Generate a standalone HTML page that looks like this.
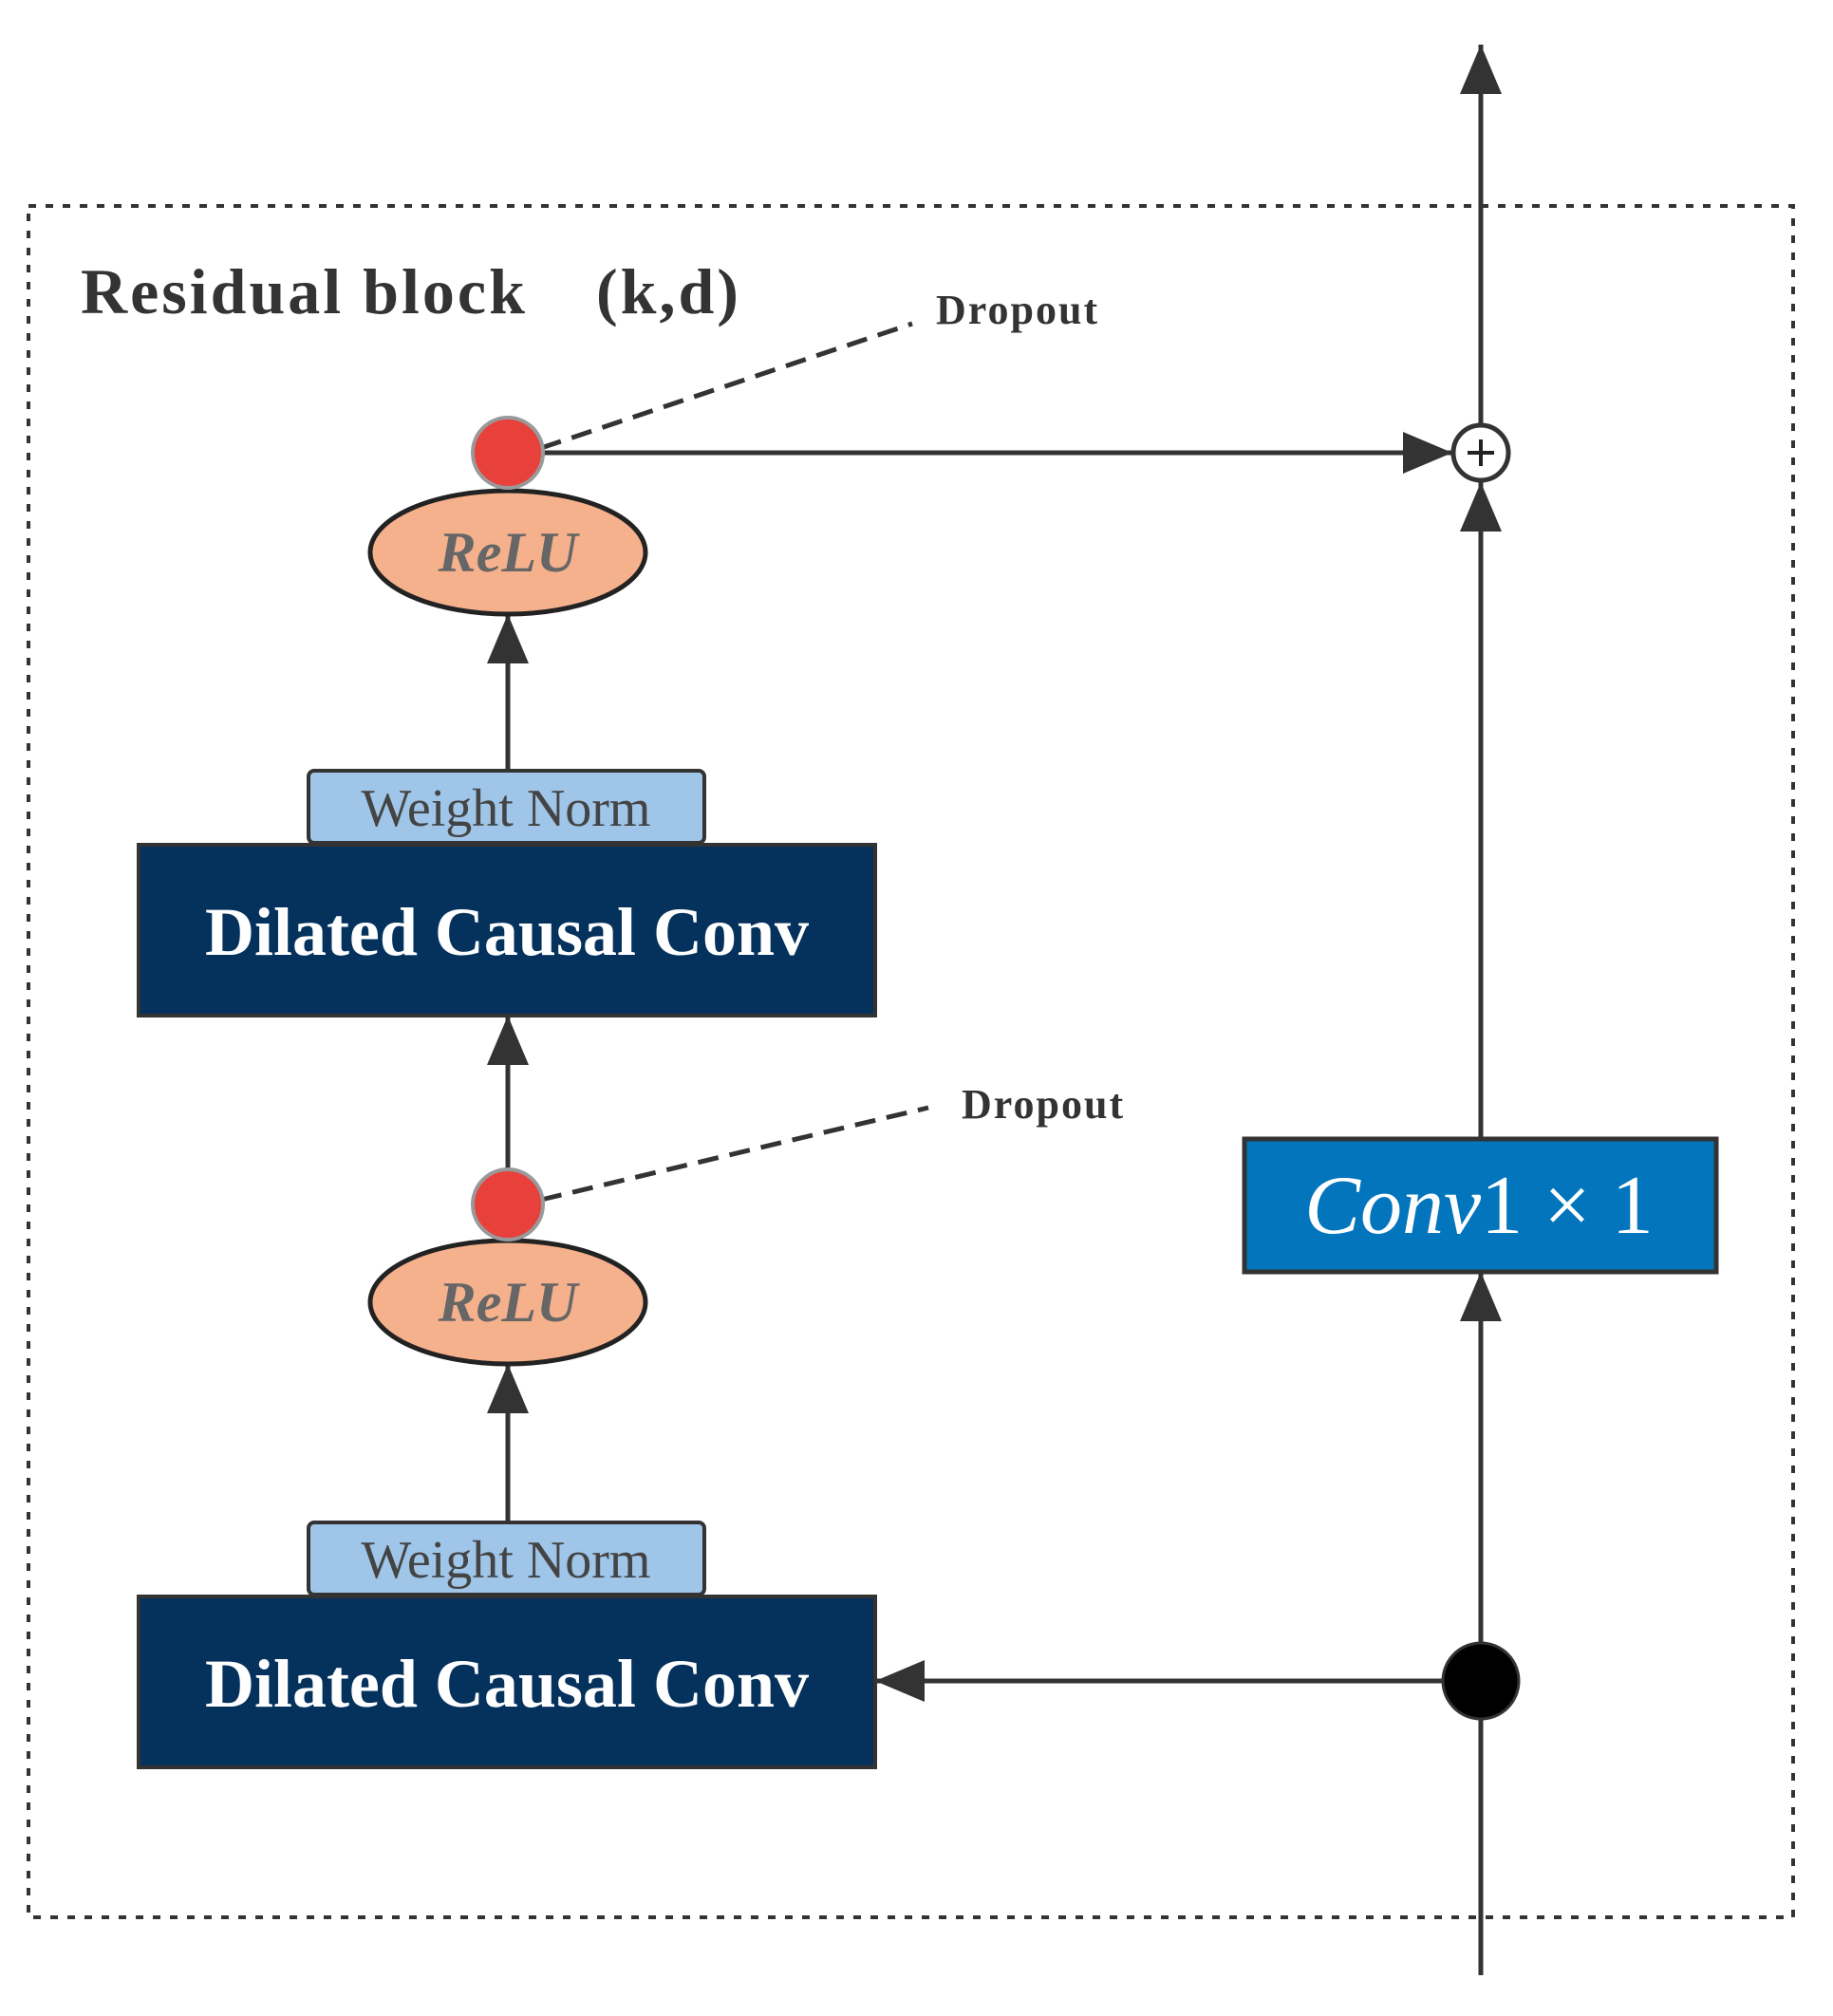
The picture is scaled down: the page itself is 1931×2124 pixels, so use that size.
<!DOCTYPE html>
<html><head><meta charset="utf-8"><style>html,body{margin:0;padding:0;background:#fff}svg{display:block}</style></head>
<body>
<svg width="1931" height="2124" viewBox="0 0 1931 2124" xmlns="http://www.w3.org/2000/svg">
<defs>
<marker id="ah" markerWidth="52" markerHeight="44" refX="52" refY="22" orient="auto" markerUnits="userSpaceOnUse">
<path d="M0,0 L52,22 L0,44 Z" fill="#333"/></marker>
</defs>
<rect x="30" y="217" width="1859" height="1803" fill="none" stroke="#333" stroke-width="4" stroke-dasharray="8,10"/>
<text x="85" y="330" font-family="Liberation Serif,serif" font-weight="bold" font-size="68" letter-spacing="3" fill="#333">Residual block</text>
<text x="628" y="330" font-family="Liberation Serif,serif" font-weight="bold" font-size="68" letter-spacing="3" fill="#333">(k,d)</text>
<g stroke="#333" stroke-width="5" fill="none">
<line x1="1560" y1="2081" x2="1560" y2="1730" marker-end="url(#ah)"/>
<line x1="1560" y1="1730" x2="1560" y2="1340" marker-end="url(#ah)"/>
<line x1="1560" y1="1200" x2="1560" y2="508" marker-end="url(#ah)"/>
<line x1="1560" y1="447" x2="1560" y2="47" marker-end="url(#ah)"/>
<line x1="1520" y1="1771" x2="922" y2="1771" marker-end="url(#ah)"/>
<line x1="573" y1="477" x2="1530" y2="477" marker-end="url(#ah)"/>
<line x1="535" y1="1604" x2="535" y2="1437" marker-end="url(#ah)"/>
<line x1="535" y1="1231" x2="535" y2="1070" marker-end="url(#ah)"/>
<line x1="535" y1="812" x2="535" y2="647" marker-end="url(#ah)"/>
<line x1="570" y1="472" x2="961" y2="341" stroke-dasharray="22,12"/>
<line x1="570" y1="1264" x2="978" y2="1167" stroke-dasharray="22,12"/>
</g>
<circle cx="1560" cy="477" r="29" fill="#fff" stroke="#333" stroke-width="5"/>
<line x1="1546" y1="477" x2="1574" y2="477" stroke="#222" stroke-width="4"/>
<line x1="1560" y1="463" x2="1560" y2="491" stroke="#222" stroke-width="4"/>
<circle cx="1560" cy="1771" r="40" fill="#000" stroke="#333" stroke-width="3"/>
<text x="986" y="341" font-family="Liberation Serif,serif" font-weight="bold" font-size="44" letter-spacing="2" fill="#333">Dropout</text>
<text x="1013" y="1178" font-family="Liberation Serif,serif" font-weight="bold" font-size="44" letter-spacing="2" fill="#333">Dropout</text>
<ellipse cx="535" cy="582" rx="145" ry="65" fill="#f5b08c" stroke="#222" stroke-width="5"/>
<text x="535" y="602" text-anchor="middle" font-family="Liberation Serif,serif" font-style="italic" font-weight="bold" font-size="60" fill="#666">ReLU</text>
<circle cx="535" cy="477" r="37" fill="#e8403a" stroke="#999" stroke-width="4"/>
<rect x="325" y="812" width="417" height="76" rx="6" fill="#9fc5e8" stroke="#333" stroke-width="4"/>
<text x="533" y="870" text-anchor="middle" font-family="Liberation Serif,serif" font-size="56" fill="#444">Weight Norm</text>
<rect x="146" y="890" width="776" height="180" fill="#05325d" stroke="#333" stroke-width="4"/>
<text x="534" y="1006" text-anchor="middle" font-family="Liberation Serif,serif" font-weight="bold" font-size="72" fill="#fff">Dilated Causal Conv</text>
<ellipse cx="535" cy="1372" rx="145" ry="65" fill="#f5b08c" stroke="#222" stroke-width="5"/>
<text x="535" y="1392" text-anchor="middle" font-family="Liberation Serif,serif" font-style="italic" font-weight="bold" font-size="60" fill="#666">ReLU</text>
<circle cx="535" cy="1269" r="37" fill="#e8403a" stroke="#999" stroke-width="4"/>
<rect x="325" y="1604" width="417" height="76" rx="6" fill="#9fc5e8" stroke="#333" stroke-width="4"/>
<text x="533" y="1662" text-anchor="middle" font-family="Liberation Serif,serif" font-size="56" fill="#444">Weight Norm</text>
<rect x="146" y="1682" width="776" height="180" fill="#05325d" stroke="#333" stroke-width="4"/>
<text x="534" y="1798" text-anchor="middle" font-family="Liberation Serif,serif" font-weight="bold" font-size="72" fill="#fff">Dilated Causal Conv</text>
<rect x="1311" y="1200" width="497" height="140" fill="#0275bd" stroke="#333" stroke-width="5"/>
<text x="1558" y="1299" text-anchor="middle" font-family="Liberation Serif,serif" font-size="88" fill="#fff"><tspan font-style="italic">Conv</tspan>1 × 1</text>
</svg>
</body></html>
